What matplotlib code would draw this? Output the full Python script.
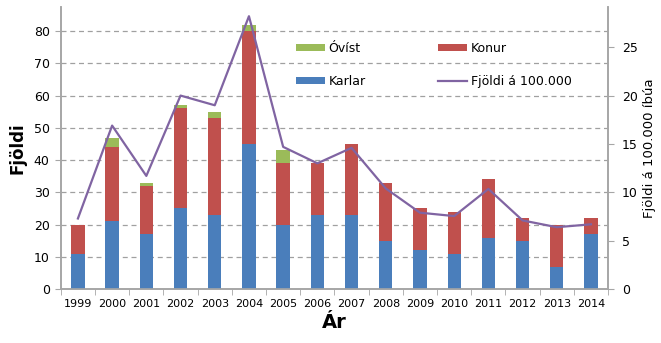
import matplotlib.pyplot as plt
import numpy as np

years = ['1999', '2000', '2001', '2002', '2003', '2004', '2005', '2006',
         '2007', '2008', '2009', '2010', '2011', '2012', '2013', '2014']
karlar = [11, 21, 17, 25, 23, 45, 20, 23, 23, 15, 12, 11, 16, 15, 7, 17]
konur = [9, 23, 15, 31, 30, 35, 19, 16, 22, 18, 13, 13, 18, 7, 13, 5]
ovist = [0, 3, 1, 1, 2, 2, 4, 0, 0, 0, 0, 0, 0, 0, 0, 0]
per100k = [7.3, 16.9, 11.7, 20.0, 19.0, 28.2, 14.7, 13.0,
           14.6, 10.4, 7.9, 7.55, 10.35, 7.1, 6.4, 6.7]

plt.rcParams['font.family'] = ['DejaVu Sans']

blue = '#4a7ebb'
red = '#c0504d'
green = '#9bbb59'
purple = '#8064a2'
axis_grey = '#a6a6a6'

fig = plt.figure(figsize=(6.61, 3.43), dpi=100)
ax = fig.add_axes([0.092, 0.157, 0.828, 0.823])
ax2 = ax.twinx()

x = np.arange(len(years))
karlar = np.array(karlar)
konur = np.array(konur)
ovist = np.array(ovist)

w = 0.39
b1 = ax.bar(x, karlar, w, color=blue, zorder=3)
b2 = ax.bar(x, konur, w, bottom=karlar, color=red, zorder=3)
b3 = ax.bar(x, ovist, w, bottom=karlar + konur, color=green, zorder=3)
ln, = ax2.plot(x, per100k, color=purple, lw=1.6, zorder=4)

ax.set_xlim(-0.5, len(years) - 0.5)
ax.set_ylim(0, 87.5)
ax2.set_ylim(0, 87.5 / 3)
ax.set_yticks(range(0, 81, 10))
ax2.set_yticks(range(0, 26, 5))

ax.set_xticks(x)
ax.set_xticklabels(years, fontsize=8)
ax.set_xticks(np.arange(-0.5, len(years), 1), minor=True)
ax.tick_params(axis='x', which='major', length=0, pad=7)
ax.tick_params(axis='x', which='minor', length=4, color=axis_grey)
ax.tick_params(axis='y', length=4, color=axis_grey, labelsize=9, pad=4)
ax2.tick_params(axis='y', length=4, color=axis_grey, labelsize=9, pad=6)

ax.yaxis.grid(True, linestyle=(0, (4, 3)), color='#a0a0a0', lw=0.9, zorder=0)
ax.set_axisbelow(True)

for a in (ax, ax2):
    a.spines['top'].set_visible(False)
    for s in ('left', 'right', 'bottom'):
        a.spines[s].set_color(axis_grey)
        a.spines[s].set_linewidth(1.2)

ax.set_xlabel('Ár', fontsize=14, fontweight='bold', labelpad=3)
ax.set_ylabel('Fjöldi', fontsize=12, fontweight='bold', labelpad=5)
ax2.set_ylabel('Fjöldi á 100.000 íbúa', fontsize=9.5, labelpad=4)

ax2.legend([b3, b1, b2, ln], ['Óvíst', 'Karlar', 'Konur', 'Fjöldi á 100.000'],
           ncol=2, frameon=False, loc='upper left', bbox_to_anchor=(0.43, 0.875),
           borderaxespad=0, borderpad=0,
           fontsize=9, handlelength=2.3, handleheight=0.55,
           handletextpad=0.3, columnspacing=5.8, labelspacing=1.6)

fig.savefig('out.png', dpi=100)
